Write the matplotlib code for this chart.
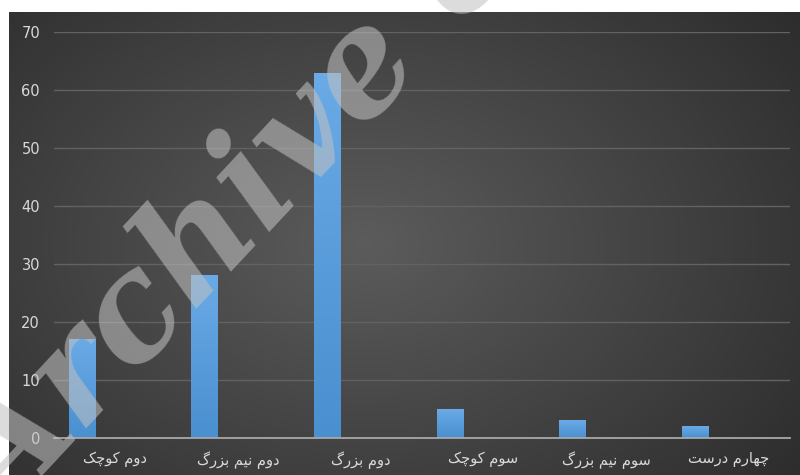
import numpy as np
import matplotlib
matplotlib.use("Agg")
import matplotlib.pyplot as plt

# ---- data ----
categories = ["دوم کوچک", "دوم نیم بزرگ", "دوم بزرگ", "سوم کوچک", "سوم نیم بزرگ", "چهارم درست"]
values = [17, 28, 63, 5, 3, 2]
y_ticks = [0, 10, 20, 30, 40, 50, 60, 70]

# ---- minimal Arabic-script shaping (contextual forms + RTL order) ----
# letter: (isolated, final, initial, medial); None -> right-joining only
FORMS = {
    "ا": ("\uFE8D", "\uFE8E", None, None),
    "ب": ("\uFE8F", "\uFE90", "\uFE91", "\uFE92"),
    "ت": ("\uFE95", "\uFE96", "\uFE97", "\uFE98"),
    "چ": ("\uFB7A", "\uFB7B", "\uFB7C", "\uFB7D"),
    "د": ("\uFEA9", "\uFEAA", None, None),
    "ر": ("\uFEAD", "\uFEAE", None, None),
    "ز": ("\uFEAF", "\uFEB0", None, None),
    "س": ("\uFEB1", "\uFEB2", "\uFEB3", "\uFEB4"),
    "م": ("\uFEE1", "\uFEE2", "\uFEE3", "\uFEE4"),
    "ن": ("\uFEE5", "\uFEE6", "\uFEE7", "\uFEE8"),
    "ه": ("\uFEE9", "\uFEEA", "\uFEEB", "\uFEEC"),
    "و": ("\uFEED", "\uFEEE", None, None),
    "ک": ("\uFB8E", "\uFB8F", "\uFB90", "\uFB91"),
    "گ": ("\uFB92", "\uFB93", "\uFB94", "\uFB95"),
    "ی": ("\uFBFC", "\uFBFD", "\uFBFE", "\uFBFF"),
}


def dual(ch):
    return ch in FORMS and FORMS[ch][2] is not None


def shape(text):
    out = []
    for i, ch in enumerate(text):
        if ch not in FORMS:
            out.append(ch)
            continue
        prev = text[i - 1] if i > 0 else ""
        nxt = text[i + 1] if i + 1 < len(text) else ""
        join_prev = dual(prev)
        join_next = dual(ch) and nxt in FORMS
        iso, fin, ini, med = FORMS[ch]
        if join_prev and join_next:
            out.append(med)
        elif join_prev:
            out.append(fin)
        elif join_next:
            out.append(ini)
        else:
            out.append(iso)
    return "".join(reversed(out))


W, H = 800, 475
fig = plt.figure(figsize=(W / 100, H / 100), dpi=100)
fig.patch.set_facecolor("white")

# ---- dark radial-gradient panel ----
bg = fig.add_axes([9 / W, 0, (W - 9) / W, (H - 12) / H])
bg.set_axis_off()
yy, xx = np.mgrid[0:1:300j, 0:1:500j]
r = np.sqrt(((xx - 0.45) / 0.75) ** 2 + ((yy - 0.5) / 0.9) ** 2)
shade = np.clip(0.36 - 0.20 * r, 0.17, 0.36)
bg.imshow(np.dstack([shade, shade, shade]), aspect="auto", extent=[0, 1, 0, 1],
          interpolation="bilinear")
bg.set_xlim(0, 1)
bg.set_ylim(0, 1)

# ---- plot area ----
ax = fig.add_axes([54 / W, (H - 437.7) / H, 736 / W, 405.7 / H])
ax.patch.set_alpha(0)
x = np.arange(len(categories))
bar_w = 0.22
bars = ax.bar(x - 0.27, values, width=bar_w, color="#5b9bd5", zorder=3)

# vertical gradient inside each bar
grad = np.linspace(0, 1, 100).reshape(-1, 1)
cmap = matplotlib.colors.LinearSegmentedColormap.from_list("bluegrad", ["#4a8fd0", "#6aaae6"])
for b in bars:
    im = ax.imshow(grad, cmap=cmap, origin="lower", aspect="auto", zorder=3.5,
                   extent=[b.get_x(), b.get_x() + b.get_width(), 0, b.get_height()])
    im.set_clip_path(b)

ax.set_xlim(-0.5, len(categories) - 0.5)
ax.set_ylim(0, 70)
ax.set_yticks(y_ticks)
ax.set_yticklabels([str(t) for t in y_ticks])
ax.set_xticks(x)
ax.set_xticklabels([shape(c) for c in categories], family=["DejaVu Sans"])
ax.tick_params(axis="both", length=0, colors="#d9d9d9", labelsize=10.5)
ax.tick_params(axis="y", pad=10)
ax.tick_params(axis="x", pad=10)
ax.grid(axis="y", color="#626262", linewidth=1, zorder=1)
for s in ["top", "right", "left"]:
    ax.spines[s].set_visible(False)
ax.spines["bottom"].set_color("#a8a8a8")
ax.spines["bottom"].set_linewidth(1.3)
ax.spines["bottom"].set_zorder(4)

# ---- watermark ----
fig.text(8 / W, -50 / H, "Archive of SID", rotation=47, rotation_mode="anchor",
         ha="left", va="baseline", fontsize=105, family="DejaVu Serif",
         style="italic", weight="bold", color=(0.757, 0.757, 0.757), alpha=0.57,
         zorder=10)

fig.savefig("out.png", dpi=100, facecolor=fig.get_facecolor())
